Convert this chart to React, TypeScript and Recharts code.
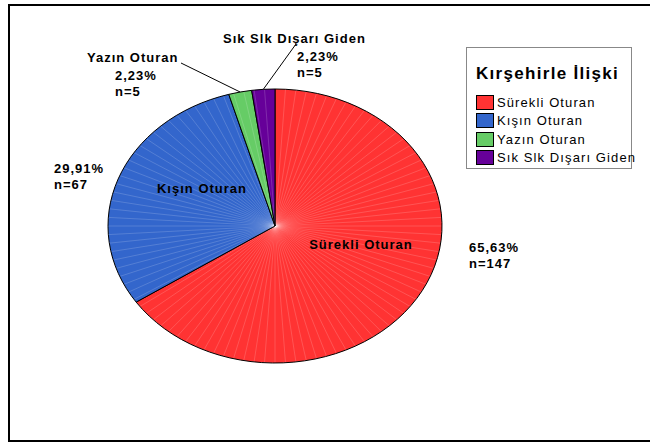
import React from 'react';
import { PieChart, Pie, Cell, Legend } from 'recharts';

// chart values
const NAMES = ['Sürekli Oturan', 'Kışın Oturan', 'Yazın Oturan', 'Sık Slk Dışarı Giden'];
const COUNTS = [147, 67, 5, 5];
const LEGEND_TITLE = 'Kırşehirle İlişki';

const COLORS = ['#FF3333', '#3366CC', '#66CC66', '#660099'];

const TOTAL = COUNTS.reduce((s, v) => s + v, 0);
const data = NAMES.map((name, i) => ({ name, value: COUNTS[i] }));

const CX = 275;
const CY = 226;
const RY = 137;
const SX = 167 / 137; // the pie is drawn as an ellipse
const RAD = Math.PI / 180;
const FONT = '"Liberation Sans", Arial, sans-serif';

// label placement, relative to the pie centre
const INNER_POS: ({ dx: number; dy: number } | null)[] = [
  { dx: 86, dy: 18 },
  { dx: -73, dy: -38 },
  null,
  null,
];
const OUTER_POS = [
  { nameX: 0, nameY: 0, x: 194, y: 21 },
  { nameX: 0, nameY: 0, x: -221, y: -58 },
  { nameX: -188, nameY: -169, x: -160, y: -151 },
  { nameX: -52, nameY: -188, x: 22, y: -170 },
];
const LEADER_FROM = [null, null, { dx: -94, dy: -163 }, { dx: 21, dy: -182 }];

const pct = (v: number) => ((v / TOTAL) * 100).toFixed(2).replace('.', ',') + '%';

const ellipsePoint = (angle: number, r: number) => [
  CX + Math.cos(-angle * RAD) * r * SX,
  CY + Math.sin(-angle * RAD) * r,
];

const EllipseSector = (props: any) => {
  const { cx, cy, outerRadius: r, startAngle, endAngle, fill } = props;
  const pt = (a: number) => [cx + Math.cos(-a * RAD) * r * SX, cy + Math.sin(-a * RAD) * r];
  const [x0, y0] = pt(startAngle);
  const [x1, y1] = pt(endAngle);
  const large = Math.abs(startAngle - endAngle) > 180 ? 1 : 0;
  const sweep = startAngle > endAngle ? 1 : 0;
  const d = `M${cx},${cy} L${x0},${y0} A${r * SX},${r} 0 ${large} ${sweep} ${x1},${y1} Z`;
  const lines = [];
  const hi = Math.max(startAngle, endAngle);
  const lo = Math.min(startAngle, endAngle);
  for (let a = Math.floor(hi / 3.6) * 3.6; a > lo + 0.5; a -= 3.6) {
    if (a > hi - 0.5) continue;
    const [lx, ly] = pt(a);
    lines.push(
      <line key={a} x1={cx} y1={cy} x2={lx} y2={ly} stroke="#fff" strokeOpacity={0.28} strokeWidth={0.6} />
    );
  }
  return (
    <g>
      <path d={d} fill={fill} stroke="none" />
      {lines}
      <path d={d} fill="none" stroke="#000" strokeWidth={1} />
    </g>
  );
};

const renderLabel = (props: any) => {
  const { index, midAngle, value, name } = props;
  const inner = INNER_POS[index];
  const outer = OUTER_POS[index];
  const from = LEADER_FROM[index];
  const txt = { fontFamily: FONT, fontSize: 13, fontWeight: 700, fill: '#000', letterSpacing: 1 };
  let leader = null;
  if (from) {
    const [ex, ey] = ellipsePoint(midAngle, RY);
    leader = <line x1={CX + from.dx} y1={CY + from.dy} x2={ex} y2={ey} stroke="#000" strokeWidth={1} />;
  }
  return (
    <g>
      {leader}
      {inner && (
        <text x={CX + inner.dx} y={CY + inner.dy} textAnchor="middle" dominantBaseline="central" style={txt}>
          {name}
        </text>
      )}
      {!inner && (
        <text x={CX + outer.nameX} y={CY + outer.nameY} dominantBaseline="central" style={txt}>
          {name}
        </text>
      )}
      <text x={CX + outer.x} y={CY + outer.y} dominantBaseline="central" style={txt}>
        {pct(value)}
      </text>
      <text x={CX + outer.x} y={CY + outer.y + 16} dominantBaseline="central" style={txt}>
        {`n=${value}`}
      </text>
    </g>
  );
};

const LegendBox = () => (
  <div
    style={{
      width: 166,
      height: 122,
      border: '1px solid #888',
      background: '#fff',
      boxSizing: 'border-box',
      padding: '16px 0 0 9px',
      fontFamily: FONT,
    }}
  >
    <div style={{ fontSize: 17, fontWeight: 700, letterSpacing: 1.3, marginBottom: 9, whiteSpace: 'nowrap' }}>
      {LEGEND_TITLE}
    </div>
    {NAMES.map((name, i) => (
      <div key={name} style={{ display: 'flex', alignItems: 'center', height: 18.5, whiteSpace: 'nowrap' }}>
        <span
          style={{
            width: 18,
            height: 15,
            background: COLORS[i],
            border: '1px solid #000',
            boxSizing: 'border-box',
            marginRight: 3,
            flexShrink: 0,
          }}
        />
        <span style={{ fontSize: 13, letterSpacing: 1.1, color: '#000' }}>{name}</span>
      </div>
    ))}
  </div>
);

export default function App() {
  return (
    <div style={{ position: 'absolute', left: 0, top: 0, width: 650, height: 445, background: '#fff', overflow: 'hidden' }}>
      <div
        style={{
          position: 'absolute',
          left: 8,
          top: 4,
          width: 660,
          height: 438,
          border: '2px solid #000',
          boxSizing: 'border-box',
        }}
      />
      <PieChart
        width={650}
        height={445}
        margin={{ top: 0, right: 0, bottom: 0, left: 0 }}
        style={{ position: 'absolute', left: 0, top: 0 }}
      >
        <Pie
          data={data}
          dataKey="value"
          nameKey="name"
          cx={CX}
          cy={CY}
          outerRadius={RY}
          startAngle={90}
          endAngle={-270}
          shape={EllipseSector}
          label={renderLabel}
          labelLine={false}
          isAnimationActive={false}
        >
          {data.map((d, i) => (
            <Cell key={d.name} fill={COLORS[i]} />
          ))}
        </Pie>
        <Legend
          layout="vertical"
          content={<LegendBox />}
          wrapperStyle={{ position: 'absolute', left: 466, top: 47, width: 166 }}
        />
      </PieChart>
    </div>
  );
}
